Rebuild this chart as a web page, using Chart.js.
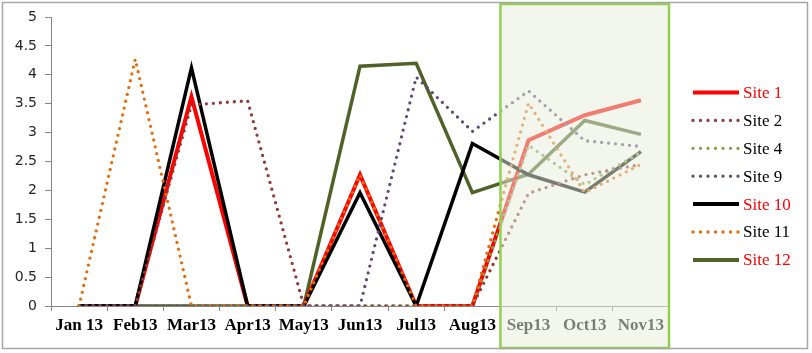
<!DOCTYPE html>
<html>
<head>
<meta charset="utf-8">
<script src="https://cdn.jsdelivr.net/npm/chart.js@4.4.1/dist/chart.umd.min.js"></script>
<style>
  html, body { margin: 0; padding: 0; background: #fff; }
  #wrap { width: 812px; height: 353px; }
</style>
</head>
<body>
<div id="wrap"><canvas id="c" width="812" height="353"></canvas></div>
<script>
// Values (one per month).
const months = ["Jan 13", "Feb13", "Mar13", "Apr13", "May13", "Jun13", "Jul13", "Aug13", "Sep13", "Oct13", "Nov13"];
const yTicks = [0, 0.5, 1, 1.5, 2, 2.5, 3, 3.5, 4, 4.5, 5];

const site1  = [0, 0,    3.62, 0,    0, 2.27, 0,    0,    2.87, 3.30, 3.56];
const site2  = [0, 0,    3.48, 3.55, 0, 0,    0,    0,    1.95, 2.27, 2.45];
const site4  = [0, 0,    0,    0,    0, 0,    0,    0,    2.78, 2.10, 2.66];
const site9  = [0, 0,    0,    0,    0, 0,    3.96, 3.02, 3.72, 2.86, 2.76];
const site10 = [0, 0,    4.12, 0,    0, 1.96, 0,    2.81, 2.27, 1.97, 2.67];
const site11 = [0, 4.27, 0,    0,    0, 2.27, 0,    0,    3.51, 1.96, 2.45];
const site12 = [0, 0,    0,    0,    0, 4.15, 4.20, 1.96, 2.28, 3.21, 2.97];

// Number of trailing months shown as the shaded "forecast" block.
const shadedMonths = 3;

const SERIES = [
  { label: "Site 1",  data: site1,  color: "#ff0000", dotted: false, width: 4,   text: "#ff0000", order: 5 },
  { label: "Site 2",  data: site2,  color: "#953735", dotted: true,  width: 3.3, text: "#000000", order: 2 },
  { label: "Site 4",  data: site4,  color: "#7f9f45", dotted: true,  width: 3.3, text: "#000000", order: 3 },
  { label: "Site 9",  data: site9,  color: "#604a7b", dotted: true,  width: 3.3, text: "#000000", order: 1 },
  { label: "Site 10", data: site10, color: "#000000", dotted: false, width: 3.5, text: "#ff0000", order: 4 },
  { label: "Site 11", data: site11, color: "#e46c0a", dotted: true,  width: 3.3, text: "#000000", order: 0 },
  { label: "Site 12", data: site12, color: "#4f6228", dotted: false, width: 3.5, text: "#ff0000", order: 6 },
];

const AXIS = "#868686";

// Legend drawn by hand so each label keeps its own text colour.
const sideLegend = {
  id: "sideLegend",
  afterDraw(chart) {
    const ctx = chart.ctx;
    const x0 = 693, x1 = 739, top = 92.5, step = 27.9;
    ctx.save();
    ctx.font = "17px 'Liberation Serif', 'Times New Roman', serif";
    ctx.textBaseline = "middle";
    SERIES.forEach((s, i) => {
      const y = top + i * step;
      ctx.beginPath();
      ctx.moveTo(x0, y);
      ctx.lineTo(x1, y);
      ctx.strokeStyle = s.color;
      ctx.lineWidth = s.dotted ? 3.3 : 4;
      ctx.lineCap = s.dotted ? "round" : "butt";
      ctx.setLineDash(s.dotted ? [0, 7.5] : []);
      ctx.stroke();
      ctx.setLineDash([]);
      ctx.fillStyle = s.text;
      ctx.fillText(s.label, x1 + 4, y + 1);
    });
    ctx.restore();
  },
};

// Pale box over the last months plus the outer frame.
const shadeAndFrame = {
  id: "shadeAndFrame",
  afterDraw(chart) {
    const ctx = chart.ctx;
    const x = chart.scales.x;
    const n = months.length;
    const left = (x.getPixelForValue(n - shadedMonths - 1) + x.getPixelForValue(n - shadedMonths)) / 2;
    const right = chart.chartArea.right;
    ctx.save();
    ctx.fillStyle = "rgba(230,237,218,0.52)";
    ctx.fillRect(left, 4, right - left, 344);
    ctx.strokeStyle = "#92d050";
    ctx.lineWidth = 2.5;
    ctx.strokeRect(left, 4, right - left, 344);
    ctx.strokeStyle = "#a6a6a6";
    ctx.lineWidth = 1.5;
    ctx.strokeRect(2.5, 2.5, 805, 346);
    ctx.restore();
  },
};

new Chart(document.getElementById("c"), {
  type: "line",
  data: {
    labels: months,
    datasets: SERIES.map((s) => ({
      label: s.label,
      data: s.data,
      order: s.order,
      borderColor: s.color,
      backgroundColor: s.color,
      borderWidth: s.width,
      borderDash: s.dotted ? [0, 7] : [],
      borderCapStyle: s.dotted ? "round" : "butt",
      borderJoinStyle: "miter",
      pointRadius: 0,
      tension: 0,
      fill: false,
    })),
  },
  options: {
    responsive: false,
    animation: false,
    devicePixelRatio: 1,
    layout: { padding: { left: 0, top: 17, right: 143, bottom: 0 } },
    plugins: { legend: { display: false }, tooltip: { enabled: false } },
    scales: {
      x: {
        offset: true,
        afterFit: (s) => { s.height = 47; },
        grid: { offset: true, drawOnChartArea: false, drawTicks: true, tickLength: 5, color: AXIS },
        border: { display: true, color: AXIS, width: 1 },
        ticks: {
          color: "#000",
          padding: 4,
          maxRotation: 0,
          autoSkip: false,
          font: { family: "'Liberation Serif', 'Times New Roman', serif", size: 17, weight: "bold" },
        },
      },
      y: {
        min: 0,
        max: 5,
        afterFit: (s) => { s.width = 51; },
        afterBuildTicks: (s) => { s.ticks = yTicks.map((v) => ({ value: v })); },
        grid: { drawOnChartArea: false, drawTicks: true, tickLength: 6, color: AXIS },
        border: { display: true, color: AXIS, width: 1 },
        ticks: {
          color: "#262626",
          padding: 8,
          callback: (v) => String(v),
          font: { family: "'DejaVu Sans', sans-serif", size: 14 },
        },
      },
    },
  },
  plugins: [sideLegend, shadeAndFrame],
});
</script>
</body>
</html>
